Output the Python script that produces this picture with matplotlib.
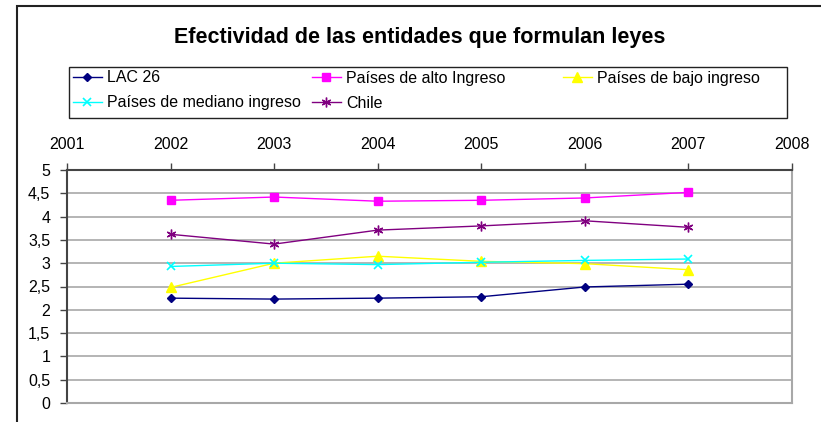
import matplotlib.pyplot as plt
from matplotlib.patches import Rectangle

plt.rcParams['font.family'] = ['Liberation Sans', 'DejaVu Sans']

years = [2002, 2003, 2004, 2005, 2006, 2007]
lac26 = [2.25, 2.23, 2.25, 2.28, 2.49, 2.55]
alto = [4.35, 4.42, 4.33, 4.35, 4.40, 4.52]
bajo = [2.48, 3.00, 3.15, 3.04, 2.99, 2.86]
mediano = [2.93, 3.00, 2.97, 3.02, 3.06, 3.09]
chile = [3.62, 3.41, 3.71, 3.80, 3.91, 3.77]

labels = ['LAC 26', 'Países de alto Ingreso', 'Países de bajo ingreso',
          'Países de mediano ingreso', 'Chile']

W, H = 821, 422
fig = plt.figure(figsize=(W / 100, H / 100), dpi=100)
ax = fig.add_axes([67 / W, 1 - 403 / H, (792 - 67) / W, (403 - 170) / H])

l1, = ax.plot(years, lac26, color='#000080', lw=1, marker='D', ms=4.5)
l2, = ax.plot(years, alto, color='#ff00ff', lw=1, marker='s', ms=5.5)
l3, = ax.plot(years, bajo, color='#ffff00', lw=1, marker='^', ms=6.5)
l4, = ax.plot(years, mediano, color='#00ffff', lw=1, marker='x', ms=5.5, mew=1.2)
l5, = ax.plot(years, chile, color='#800080', lw=1, marker=(6, 2, 0), ms=7, mew=1)
handles = [l1, l2, l3, l4, l5]

ax.set_xlim(2001, 2008)
ax.set_ylim(0, 5)
ax.set_xticks(range(2001, 2009))
ax.set_yticks([i * 0.5 for i in range(11)])
ax.set_yticklabels([('%g' % (i * 0.5)).replace('.', ',') for i in range(11)])
ax.xaxis.tick_top()
ax.tick_params(axis='x', direction='out', length=5, pad=8, labelsize=11.5, width=1, color='#444444')
ax.tick_params(axis='y', direction='out', length=5, pad=7, labelsize=11.5, width=1, color='#444444')
ax.yaxis.grid(True, color='#a8a8a8', lw=1.2)
ax.set_axisbelow(True)
ax.spines['top'].set_color('#444444')
ax.spines['left'].set_color('#444444')
ax.spines['right'].set_color('#a8a8a8')
ax.spines['bottom'].set_color('#a8a8a8')
for s in ax.spines.values():
    s.set_linewidth(1.5)

fig.text(420 / W, 1 - 37 / H, 'Efectividad de las entidades que formulan leyes',
         ha='center', va='center', fontsize=15.5, fontweight='bold')

# outer chart border (only top and left visible)
fig.add_artist(Rectangle((17 / W, -0.2), 1.2, 1.2 - 6 / H, transform=fig.transFigure,
                         fill=False, ec='#222222', lw=1.5))
# legend frame
fig.add_artist(Rectangle((69 / W, 1 - 118 / H), (787 - 69) / W, (118 - 67) / H,
                         transform=fig.transFigure, fill=False, ec='#222222', lw=1))

# legend entries placed like the Excel layout
spots = [(73, 78), (312, 78), (563, 78), (73, 103), (312, 103)]
for h, lab, (x, y) in zip(handles, labels, spots):
    leg = fig.legend([h], [lab], loc='center left', bbox_to_anchor=(x / W, 1 - y / H),
                     frameon=False, fontsize=11.5, handlelength=1.8, handletextpad=0.35,
                     borderpad=0, borderaxespad=0)

fig.savefig('out.png', dpi=100)
